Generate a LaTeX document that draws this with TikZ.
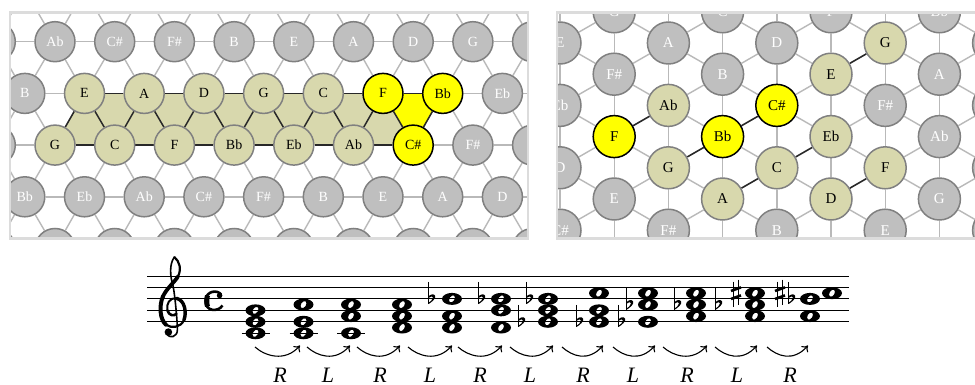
\documentclass[tikz,border=0pt]{standalone}
\usepackage{fontspec}
\setmainfont{Liberation Serif}
\usetikzlibrary{arrows.meta}
\pgfdeclarelayer{whitelayer}
\pgfdeclarelayer{litelayer}
\pgfdeclarelayer{filllayer}
\pgfdeclarelayer{darklayer}
\pgfsetlayers{whitelayer,litelayer,filllayer,darklayer,main}
\definecolor{gF}{RGB}{191,191,191}
\definecolor{gD}{RGB}{128,128,128}
\definecolor{gT}{RGB}{255,255,255}
\definecolor{oF}{RGB}{216,216,173}
\definecolor{oD}{RGB}{128,128,128}
\definecolor{oT}{RGB}{0,0,0}
\definecolor{yF}{RGB}{255,255,0}
\definecolor{yD}{RGB}{0,0,0}
\definecolor{yT}{RGB}{0,0,0}
\definecolor{latline}{RGB}{185,185,185}
\definecolor{framecol}{RGB}{220,220,220}
\definecolor{darkline}{RGB}{40,40,40}
\newcommand\setcols[1]{\edef\fc{#1F}\edef\dc{#1D}\edef\tc{#1T}}
\newcommand\wnote[2]{%
  \pgfmathsetmacro\wy{-(321.8-5.725*(#2))}%
  \begin{pgfscope}%
  \pgfpathellipse{\pgfpoint{#1pt}{\wy pt}}{\pgfpoint{10pt}{0pt}}{\pgfpoint{0pt}{6pt}}%
  \pgfpathellipse{\pgfpoint{#1pt}{\wy pt}}{\pgfpointpolar{58}{3.9pt}}{\pgfpointpolar{148}{2.5pt}}%
  \pgfseteorule\pgfsetfillcolor{black}\pgfusepath{fill}%
  \end{pgfscope}}
\newcommand\flatsym[2]{%
  \pgfmathsetmacro\fy{321.8-5.725*(#2)}%
  \pgfmathsetmacro\fx{#1-3.5}%
  \draw[line width=1.1pt] (\fx,\fy-17) -- (\fx,\fy+5.2);
  \fill (\fx,\fy+5.2) .. controls (\fx+3.5,\fy+3) and (\fx+7.8,\fy-0.5) .. (\fx+6.6,\fy-3.2)
     .. controls (\fx+5.4,\fy-5.4) and (\fx+2,\fy-4.8) .. (\fx,\fy-2.4) -- (\fx,\fy-0.9)
     .. controls (\fx+1.8,\fy-3) and (\fx+4.6,\fy-3) .. (\fx+4.5,\fy-1.3)
     .. controls (\fx+4.3,\fy+0.8) and (\fx+1.8,\fy+3) .. (\fx,\fy+3.9) -- cycle;}
\newcommand\sharpsym[2]{%
  \pgfmathsetmacro\sy{321.8-5.725*(#2)}%
  \draw[line width=1pt] (#1-2.3,\sy-11.5) -- (#1-2.3,\sy+13.5);
  \draw[line width=1pt] (#1+2.3,\sy-13.5) -- (#1+2.3,\sy+11.5);
  \draw[line width=2.6pt] (#1-5,\sy-2.2) -- (#1+5,\sy-5.8);
  \draw[line width=2.6pt] (#1-5,\sy+5.8) -- (#1+5,\sy+2.2);}
\newcommand\ledger[1]{\draw[line width=1.1pt] (#1-14,333.25) -- (#1+14,333.25);}
\begin{document}
\begin{tikzpicture}[x=1pt,y=-1pt,
  lite/.style={draw=latline, line width=1.4pt},
  drk/.style={draw=darkline, line width=1.5pt},
  lnode/.style={circle, minimum size=40pt, inner sep=0pt, line width=1.5pt, font=\fontsize{14}{16}\selectfont},
  rnode/.style={circle, minimum size=42pt, inner sep=0pt, line width=1.5pt, font=\fontsize{15}{17}\selectfont},
  rlab/.style={inner sep=0pt, font=\fontsize{22}{24}\selectfont\itshape},
  staffline/.style={line width=1pt, draw=black}]
\useasboundingbox (0,0) rectangle (975,385);
\begin{pgfonlayer}{whitelayer}
\fill[white] (0,0) rectangle (975,385);
\end{pgfonlayer}

% ---------------- left Tonnetz: nodes ----------------
\begin{scope}
\clip (10,12.5) rectangle (528,238.5);
\foreach \lab/\ty [count=\k from 0] in {/g,/g,/g,/g,/g,/g,/g,/g,/g,/g,/g}
  {\setcols{\ty}\node[lnode,fill=\fc,draw=\dc,text=\tc] (L0-\k) at ({24.8+59.7*(\k-1)},-10) {\lab};}
\foreach \lab/\ty [count=\k from 0] in {/g,Ab/g,C\#/g,F\#/g,B/g,E/g,A/g,D/g,G/g,/g,/g}
  {\setcols{\ty}\node[lnode,fill=\fc,draw=\dc,text=\tc] (L1-\k) at ({55+59.7*(\k-1)},41.7) {\lab};}
\foreach \lab/\ty [count=\k from 0] in {/g,B/g,E/o,A/o,D/o,G/o,C/o,F/y,Bb/y,Eb/g,/g}
  {\setcols{\ty}\node[lnode,fill=\fc,draw=\dc,text=\tc] (L2-\k) at ({24.8+59.7*(\k-1)},93.4) {\lab};}
\foreach \lab/\ty [count=\k from 0] in {/g,G/o,C/o,F/o,Bb/o,Eb/o,Ab/o,C\#/y,F\#/g,/g,/g}
  {\setcols{\ty}\node[lnode,fill=\fc,draw=\dc,text=\tc] (L3-\k) at ({55+59.7*(\k-1)},145.1) {\lab};}
\foreach \lab/\ty [count=\k from 0] in {/g,Bb/g,Eb/g,Ab/g,C\#/g,F\#/g,B/g,E/g,A/g,D/g,/g}
  {\setcols{\ty}\node[lnode,fill=\fc,draw=\dc,text=\tc] (L4-\k) at ({24.8+59.7*(\k-1)},196.8) {\lab};}
\foreach \lab/\ty [count=\k from 0] in {/g,/g,/g,/g,/g,/g,/g,/g,/g,/g,/g}
  {\setcols{\ty}\node[lnode,fill=\fc,draw=\dc,text=\tc] (L5-\k) at ({55+59.7*(\k-1)},248.5) {\lab};}
\end{scope}

% ---------------- right Tonnetz: nodes ----------------
\begin{scope}
\clip (557,12.5) rectangle (975,238.5);
\foreach \lab/\ty [count=\k from 0] in {/g,/g,/g,/g,/g}
  {\setcols{\ty}\node[rnode,fill=\fc,draw=\dc,text=\tc] (R0-\k) at (505.8,{11.8+62.4*\k}) {\lab};}
\foreach \lab/\ty [count=\k from 0] in {/g,E/g,Eb/g,D/g,C\#/g,/g}
  {\setcols{\ty}\node[rnode,fill=\fc,draw=\dc,text=\tc] (R1-\k) at (560,{-19.4+62.4*\k}) {\lab};}
\foreach \lab/\ty [count=\k from 0] in {G/g,F\#/g,F/y,E/g,/g}
  {\setcols{\ty}\node[rnode,fill=\fc,draw=\dc,text=\tc] (R2-\k) at (614.2,{11.8+62.4*\k}) {\lab};}
\foreach \lab/\ty [count=\k from 0] in {/g,A/g,Ab/o,G/o,F\#/g,/g}
  {\setcols{\ty}\node[rnode,fill=\fc,draw=\dc,text=\tc] (R3-\k) at (668.4,{-19.4+62.4*\k}) {\lab};}
\foreach \lab/\ty [count=\k from 0] in {C/g,B/g,Bb/y,A/o,/g}
  {\setcols{\ty}\node[rnode,fill=\fc,draw=\dc,text=\tc] (R4-\k) at (722.6,{11.8+62.4*\k}) {\lab};}
\foreach \lab/\ty [count=\k from 0] in {/g,D/g,C\#/y,C/o,B/g,/g}
  {\setcols{\ty}\node[rnode,fill=\fc,draw=\dc,text=\tc] (R5-\k) at (776.8,{-19.4+62.4*\k}) {\lab};}
\foreach \lab/\ty [count=\k from 0] in {F/g,E/o,Eb/o,D/o,/g}
  {\setcols{\ty}\node[rnode,fill=\fc,draw=\dc,text=\tc] (R6-\k) at (831,{11.8+62.4*\k}) {\lab};}
\foreach \lab/\ty [count=\k from 0] in {/g,G/o,F\#/g,F/o,E/g,/g}
  {\setcols{\ty}\node[rnode,fill=\fc,draw=\dc,text=\tc] (R7-\k) at (885.2,{-19.4+62.4*\k}) {\lab};}
\foreach \lab/\ty [count=\k from 0] in {Bb/g,A/g,Ab/g,G/g,/g}
  {\setcols{\ty}\node[rnode,fill=\fc,draw=\dc,text=\tc] (R8-\k) at (939.4,{11.8+62.4*\k}) {\lab};}
\foreach \lab/\ty [count=\k from 0] in {/g,/g,/g,/g,/g,/g}
  {\setcols{\ty}\node[rnode,fill=\fc,draw=\dc,text=\tc] (R9-\k) at (993.6,{-19.4+62.4*\k}) {\lab};}
\end{scope}

% ---------------- lattice edges ----------------
\begin{pgfonlayer}{litelayer}
\begin{scope}
\clip (10,12.5) rectangle (528,238.5);
\foreach \i in {0,...,5}{\foreach \k in {0,...,9}{\pgfmathtruncatemacro\kn{\k+1}\draw[lite] (L\i-\k) -- (L\i-\kn);}}
\foreach \i in {0,...,4}{%
  \pgfmathtruncatemacro\ni{\i+1}\pgfmathtruncatemacro\rp{mod(\i,2)}%
  \foreach \k in {0,...,10}{%
    \ifnum\rp=0
      \ifnum\k>0 \pgfmathtruncatemacro\j{\k-1}\draw[lite] (L\i-\k) -- (L\ni-\j);\fi
      \draw[lite] (L\i-\k) -- (L\ni-\k);
    \else
      \draw[lite] (L\i-\k) -- (L\ni-\k);
      \ifnum\k<10 \pgfmathtruncatemacro\j{\k+1}\draw[lite] (L\i-\k) -- (L\ni-\j);\fi
    \fi}}
\end{scope}
\begin{scope}
\clip (557,12.5) rectangle (975,238.5);
\foreach \c in {1,3,5,7,9}{\foreach \k in {0,...,4}{\pgfmathtruncatemacro\kn{\k+1}\draw[lite] (R\c-\k) -- (R\c-\kn);}}
\foreach \c in {0,2,4,6,8}{\foreach \k in {0,...,3}{\pgfmathtruncatemacro\kn{\k+1}\draw[lite] (R\c-\k) -- (R\c-\kn);}}
\foreach \c in {1,3,5,7}{\pgfmathtruncatemacro\cn{\c+1}%
  \foreach \k in {0,...,5}{%
    \ifnum\k>0 \pgfmathtruncatemacro\j{\k-1}\draw[lite] (R\c-\k) -- (R\cn-\j);\fi
    \ifnum\k<5 \draw[lite] (R\c-\k) -- (R\cn-\k);\fi}}
\foreach \c in {0,2,4,6,8}{\pgfmathtruncatemacro\cn{\c+1}%
  \foreach \k in {0,...,4}{\pgfmathtruncatemacro\j{\k+1}%
    \draw[lite] (R\c-\k) -- (R\cn-\k);
    \draw[lite] (R\c-\k) -- (R\cn-\j);}}
\end{scope}
\end{pgfonlayer}

\begin{pgfonlayer}{filllayer}
\fill[oF] (L3-1.center) -- (L2-2.center) -- (L2-7.center) -- (L3-7.center) -- cycle;
\fill[yF] (L2-7.center) -- (L2-8.center) -- (L3-7.center) -- cycle;
\end{pgfonlayer}

\begin{pgfonlayer}{darklayer}
\draw[drk] (L2-2) -- (L2-3) -- (L2-4) -- (L2-5) -- (L2-6) -- (L2-7) -- (L2-8);
\draw[drk] (L3-1) -- (L3-2) -- (L3-3) -- (L3-4) -- (L3-5) -- (L3-6) -- (L3-7);
\foreach \k in {2,...,7}{\pgfmathtruncatemacro\j{\k-1}\draw[drk] (L2-\k) -- (L3-\j); \draw[drk] (L2-\k) -- (L3-\k);}
\draw[drk] (L2-8) -- (L3-7);
\draw[drk] (R7-1) -- (R6-1);
\draw[drk] (R6-2) -- (R5-3);
\draw[drk] (R5-3) -- (R4-3);
\draw[drk] (R7-3) -- (R6-3);
\draw[drk] (R2-2) -- (R3-2);
\draw[drk] (R3-3) -- (R4-2);
\draw[drk] (R4-2) -- (R5-2);
\end{pgfonlayer}

% frames
\draw[framecol, line width=2.5pt] (10,12.5) rectangle (528,238.5);
\draw[framecol, line width=2.5pt] (975,12.5) -- (557,12.5) -- (557,238.5) -- (975,238.5);

% ---------------- staff ----------------
\foreach \n in {0,...,4} \draw[staffline] (147,{321.8-11.45*\n}) -- (849,{321.8-11.45*\n});

% treble clef
\begin{scope}[shift={(173.4,310.35)}, x=10pt, y=11.45pt, line cap=round, line join=round]
\draw[line width=2.2pt] (0.1,4.65) .. controls (0.6,4.3) and (0.85,3.6) .. (0.45,2.95);
\draw[line width=3.8pt] (0.45,2.95) .. controls (0.15,2.5) and (-0.7,1.9) .. (-1.05,1.2);
\draw[line width=4pt] (-1.05,1.2) .. controls (-1.45,0.4) and (-1.35,-0.8) .. (-0.75,-1.25);
\draw[line width=2.2pt] (-0.75,-1.25) .. controls (-0.2,-1.6) and (0.75,-1.5) .. (1.05,-0.85);
\draw[line width=3.4pt] (1.05,-0.85) .. controls (1.35,-0.2) and (1.15,0.9) .. (0.3,1.05);
\draw[line width=2pt] (0.3,1.05) .. controls (-0.35,1.15) and (-0.75,0.55) .. (-0.6,0.0);
\draw[line width=2.6pt] (-0.6,0.0) .. controls (-0.45,-0.45) and (0.05,-0.55) .. (0.3,-0.3);
\draw[line width=1.6pt] (0.1,4.65) .. controls (-0.4,4.1) and (-0.35,3.0) .. (-0.05,2.2)
   .. controls (0.15,1.4) and (0.4,-1.0) .. (0.4,-1.7)
   .. controls (0.4,-2.35) and (-0.4,-2.5) .. (-0.7,-2.05);
\fill (-0.5,-1.9) circle (3.8pt);
\end{scope}

% common time
\draw[line width=2.6pt] (221,294.5) .. controls (218,289.8) and (206,290) .. (205.5,301) .. controls (205.5,311.5) and (218,312.5) .. (222.5,305.5);
\draw[line width=5pt] (207.5,295.5) .. controls (206.6,298) and (206.6,304) .. (207.5,306.5);
\fill (219.6,295.5) circle (2.8pt);

% chords
\wnote{255.5}{-2}\wnote{255.5}{0}\wnote{255.5}{2}\ledger{255.5}
\wnote{303.5}{-2}\wnote{303.5}{0}\wnote{303.5}{3}\ledger{303.5}
\wnote{351}{-2}\wnote{351}{1}\wnote{351}{3}\ledger{351}
\wnote{402}{-1}\wnote{402}{1}\wnote{402}{3}
\flatsym{432}{4}\wnote{452}{-1}\wnote{452}{1}\wnote{452}{4}
\flatsym{482}{4}\wnote{501}{-1}\wnote{501}{2}\wnote{501}{4}
\flatsym{522}{0}\flatsym{530}{4}\wnote{548}{0}\wnote{548}{2}\wnote{548}{4}
\flatsym{580}{0}\wnote{599}{0}\wnote{599}{2}\wnote{599}{5}
\flatsym{622}{0}\flatsym{630}{3}\wnote{648}{0}\wnote{648}{3}\wnote{648}{5}
\flatsym{678}{3}\wnote{696}{1}\wnote{696}{3}\wnote{696}{5}
\flatsym{719}{3}\sharpsym{736}{5}\wnote{755}{1}\wnote{755}{3}\wnote{755}{5}
\sharpsym{780}{5}\flatsym{792}{4}\wnote{810}{1}\wnote{810}{4}\wnote{832}{5}

% arrows and labels
\foreach \s/\e [count=\n] in {255/300,307/350,357/400,408/452,458/502,510/553,562/603,613/655,663/707,715/757,767/808}{
  \coordinate (as\n) at (\s,347);
  \coordinate (ae\n) at (\e,345.5);
  \draw[line width=1.1pt, -{Computer Modern Rightarrow[length=5.5pt,width=9pt]}] (as\n) .. controls +(10,9) and +(-15,17) .. (ae\n);}
\foreach \lx/\lt [count=\n] in {280/R,328/L,380/R,430/L,480/R,530/L,583/R,633/L,687/R,737/L,790/R}
  \node[rlab] (lab\n) at (\lx,375) {\lt};
\end{tikzpicture}
\end{document}
